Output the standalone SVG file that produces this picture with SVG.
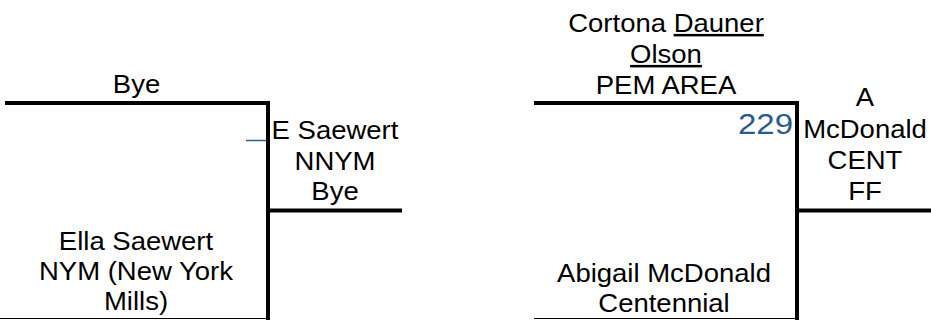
<svg xmlns="http://www.w3.org/2000/svg" width="931" height="320" viewBox="0 0 931 320">
<style>
.t{font-family:"Liberation Sans",Arial,sans-serif;font-size:25px;fill:#000;text-anchor:middle}
.n{font-family:"Liberation Sans",Arial,sans-serif;font-size:30px;fill:#2A5B8C;text-anchor:end}
.u{text-decoration:underline}
.thick{fill:none;stroke:#000;stroke-width:4;stroke-linejoin:miter;stroke-linecap:butt}
.thin{fill:none;stroke:#000;stroke-width:1.2}
.blue{fill:none;stroke:#2A5B8C;stroke-width:1.5}
</style>
<rect width="931" height="320" fill="#fff"/>
<g id="connectors">
<path class="thick" d="M5,103 H268 V320"/>
<path class="thick" d="M268,210.5 H402"/>
<path class="thin" d="M0,318.5 H268"/>
<path class="blue" d="M246,140.5 H266"/>
<path class="thick" d="M534,103 H797 V320"/>
<path class="thick" d="M797,210.5 H931"/>
<path class="thin" d="M534,318.5 H797"/>
</g>
<g id="node-bye-top">
<text class="t" transform="translate(136.5,92.7) scale(1.1,1)">Bye</text>
</g>
<g id="node-e-saewert">
<text class="t" transform="translate(335,138.7) scale(1.1,1)">E Saewert</text>
<text class="t" transform="translate(335,169.5) scale(1.1,1)">NNYM</text>
<text class="t" transform="translate(335,200) scale(1.1,1)">Bye</text>
</g>
<g id="node-ella-saewert">
<text class="t" transform="translate(136,249.5) scale(1.1,1)">Ella Saewert</text>
<text class="t" transform="translate(136,280) scale(1.1,1)">NYM (New York</text>
<text class="t" transform="translate(136,310) scale(1.1,1)">Mills)</text>
</g>
<g id="node-cortona">
<text class="t" transform="translate(666,32) scale(1.1,1)">Cortona <tspan class="u">Dauner</tspan></text>
<text class="t" transform="translate(666,63) scale(1.1,1)"><tspan class="u">Olson</tspan></text>
<text class="t" transform="translate(666,94) scale(1.1,1)">PEM AREA</text>
</g>
<g id="node-229">
<text class="n" transform="translate(793,134) scale(1.1,1)">229</text>
</g>
<g id="node-a-mcdonald">
<text class="t" transform="translate(865,106) scale(1.1,1)">A</text>
<text class="t" transform="translate(865,137.7) scale(1.1,1)">McDonald</text>
<text class="t" transform="translate(865,169) scale(1.1,1)">CENT</text>
<text class="t" transform="translate(865,200) scale(1.1,1)">FF</text>
</g>
<g id="node-abigail">
<text class="t" transform="translate(664,281.7) scale(1.1,1)">Abigail McDonald</text>
<text class="t" transform="translate(664,311.7) scale(1.1,1)">Centennial</text>
</g>
</svg>
